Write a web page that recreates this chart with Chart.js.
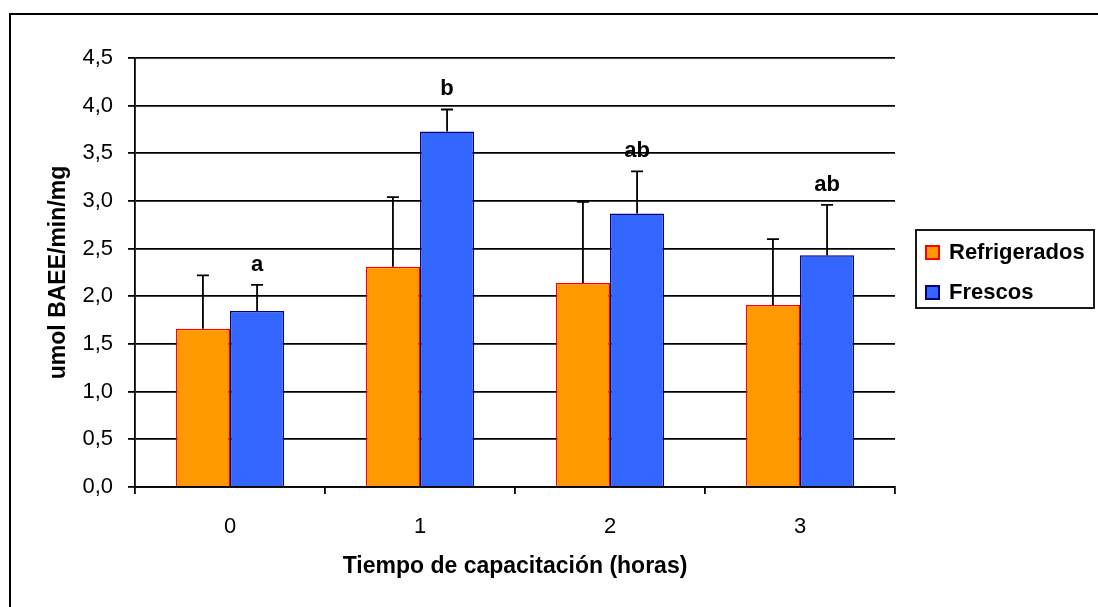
<!DOCTYPE html>
<html>
<head>
<meta charset="utf-8">
<script src="https://cdn.jsdelivr.net/npm/chart.js@4"></script>
<style>
  html, body { margin: 0; padding: 0; background: #fff; }
  #wrap { width: 1098px; height: 607px; position: relative; }
</style>
</head>
<body>
<div id="wrap"><canvas id="grafico"></canvas></div>
<script>
const horas = ['0', '1', '2', '3'];
const refrigerados = [1.66, 2.31, 2.14, 1.91];
const refrigeradosErr = [0.56, 0.73, 0.85, 0.69];
const frescos = [1.845, 3.73, 2.87, 2.43];
const frescosErr = [0.275, 0.23, 0.44, 0.53];
const letras = ['a', 'b', 'ab', 'ab'];
const ticksY = [0, 0.5, 1, 1.5, 2, 2.5, 3, 3.5, 4, 4.5];

const FONTE = '"Liberation Sans", Arial, sans-serif';
const fmtY = (v) => v.toFixed(1).replace('.', ',');

// marco exterior (solo se ven el borde superior e izquierdo)
const marco = {
  id: 'marco',
  beforeDraw(chart) {
    const ctx = chart.ctx;
    ctx.save();
    ctx.strokeStyle = '#000';
    ctx.lineWidth = 2;
    ctx.strokeRect(10, 14, 1300, 800);
    ctx.restore();
  }
};

// barras de error (solo hacia arriba) y letras de significancia
const errores = {
  id: 'errores',
  afterDatasetsDraw(chart) {
    const ctx = chart.ctx, y = chart.scales.y;
    const errs = [refrigeradosErr, frescosErr];
    ctx.save();
    ctx.strokeStyle = '#000';
    ctx.lineWidth = 1.8;
    chart.data.datasets.forEach((ds, i) => {
      chart.getDatasetMeta(i).data.forEach((bar, j) => {
        const top = y.getPixelForValue(ds.data[j] + errs[i][j]);
        ctx.beginPath();
        ctx.moveTo(bar.x, bar.y);
        ctx.lineTo(bar.x, top);
        ctx.moveTo(bar.x - 6, top);
        ctx.lineTo(bar.x + 6, top);
        ctx.stroke();
      });
    });
    ctx.fillStyle = '#000';
    ctx.font = 'bold 22px ' + FONTE;
    ctx.textAlign = 'center';
    ctx.textBaseline = 'alphabetic';
    chart.getDatasetMeta(1).data.forEach((bar, j) => {
      const top = y.getPixelForValue(frescos[j] + frescosErr[j]);
      ctx.fillText(letras[j], bar.x, top - 14);
    });
    ctx.restore();
  }
};

// leyenda dibujada a mano, recuadro a la derecha
const leyenda = {
  id: 'leyenda',
  afterDraw(chart) {
    const ctx = chart.ctx;
    const x0 = 916, y0 = 230;
    ctx.save();
    ctx.fillStyle = '#fff';
    ctx.fillRect(x0, y0, 178, 78);
    ctx.strokeStyle = '#000';
    ctx.lineWidth = 1.8;
    ctx.strokeRect(x0, y0, 178, 78);
    ctx.font = 'bold 22px ' + FONTE;
    ctx.textBaseline = 'middle';
    chart.data.datasets.forEach((ds, i) => {
      const cy = y0 + 22 + i * 40;
      ctx.fillStyle = ds.backgroundColor;
      ctx.fillRect(x0 + 10, cy - 6, 13, 13);
      ctx.strokeStyle = ds.borderColor;
      ctx.lineWidth = 2;
      ctx.strokeRect(x0 + 10, cy - 6, 13, 13);
      ctx.fillStyle = '#000';
      ctx.fillText(ds.label, x0 + 33, cy + 1);
    });
    ctx.restore();
  }
};

new Chart(document.getElementById('grafico'), {
  type: 'bar',
  data: {
    labels: horas,
    datasets: [
      { label: 'Refrigerados', data: refrigerados, backgroundColor: '#FF9900', borderColor: '#FF0000', borderWidth: 1.5 },
      { label: 'Frescos', data: frescos, backgroundColor: '#3366FF', borderColor: '#000080', borderWidth: 1.5 },
    ],
  },
  options: {
    responsive: true, maintainAspectRatio: false, animation: false,
    categoryPercentage: 0.57, barPercentage: 1,
    layout: { padding: { left: 0, top: 58, right: 203, bottom: 0 } },
    plugins: { legend: { display: false }, tooltip: { enabled: false } },
    scales: {
      x: {
        grid: { drawOnChartArea: false, drawTicks: true, tickLength: 7, color: '#000', lineWidth: 1.8, offset: true },
        border: { color: '#000', width: 1.8 },
        ticks: { color: '#000', font: { family: FONTE, size: 22 }, padding: 20 },
        title: { display: true, text: 'Tiempo de capacitación (horas)', color: '#000',
          font: { family: FONTE, size: 23, weight: 'bold' }, padding: { top: 0, bottom: 27 } },
        afterFit: (s) => { s.height = 120; },
      },
      y: {
        min: 0, max: 4.5,
        afterBuildTicks: (s) => { s.ticks = ticksY.map(v => ({ value: v })); },
        grid: { color: '#000', lineWidth: 1.8, tickLength: 7 },
        border: { color: '#000', width: 1.8 },
        ticks: { color: '#000', font: { family: FONTE, size: 22 }, padding: 15, callback: (v) => fmtY(v) },
        title: { display: true, text: 'umol BAEE/min/mg', color: '#000',
          font: { family: FONTE, size: 23, weight: 'bold' }, padding: { top: 45, bottom: 0 } },
        afterFit: (s) => { s.width = 135; },
      },
    },
  },
  plugins: [marco, errores, leyenda],
});
</script>
</body>
</html>
